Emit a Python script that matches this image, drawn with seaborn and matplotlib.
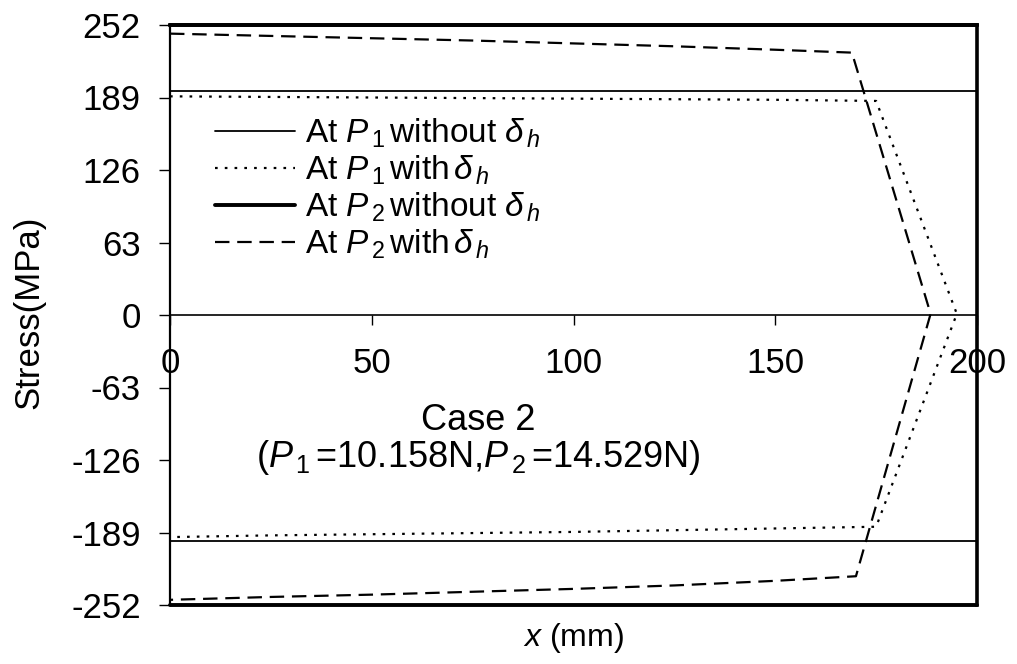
import matplotlib
matplotlib.use("Agg")
import matplotlib.pyplot as plt
import seaborn as sns
import pandas as pd

sns.set_theme(style="ticks")
plt.rcParams['font.family'] = ['Liberation Sans', 'DejaVu Sans']
plt.rcParams['mathtext.fontset'] = 'custom'
plt.rcParams['mathtext.rm'] = 'Liberation Sans'
plt.rcParams['mathtext.it'] = 'Liberation Sans:italic'
plt.rcParams['mathtext.bf'] = 'Liberation Sans:bold'
plt.rcParams['axes.edgecolor'] = 'black'
plt.rcParams['xtick.color'] = 'black'
plt.rcParams['ytick.color'] = 'black'
plt.rcParams['text.color'] = 'black'

# ---- data ----
x_full = [0, 200]
p1_without_top = [195, 195]
p1_without_bot = [-196, -196]
p2_without_top = [252, 252]
p2_without_bot = [-252, -252]

# P1 with delta_h (dotted): upper branch -> tip -> lower branch
p1_with_x = [0, 25, 50, 75, 100, 125, 150, 175, 195, 175, 150, 125, 100, 75, 50, 25, 0]
p1_with_y = [190, 189.5, 189, 188.5, 188, 187.5, 187, 186, 1,
             -184, -185.5, -187, -188.5, -189.5, -190.5, -191.5, -193]

# P2 with delta_h (dashed)
p2_with_x = [0, 25, 50, 75, 100, 125, 150, 169, 188.5, 170, 150, 125, 100, 75, 50, 25, 0]
p2_with_y = [244.5, 242.5, 240.5, 238.5, 236, 233.5, 230.5, 228, 1,
             -227, -231, -235, -238, -240.5, -243, -245, -247.5]

y_ticks = [-252, -189, -126, -63, 0, 63, 126, 189, 252]
x_ticks = [0, 50, 100, 150, 200]

labels = [r"At $P_{\,\mathit{1}}\,$without $\delta_{\,h}$",
          r"At $P_{\,\mathit{1}}\,$with$\,\delta_{\,h}$",
          r"At $P_{\,\mathit{2}}\,$without $\delta_{\,h}$",
          r"At $P_{\,\mathit{2}}\,$with$\,\delta_{\,h}$"]

fig = plt.figure(figsize=(10.17, 6.64), dpi=100)
ax = fig.add_axes([170/1017, 1-605/664, (977-170)/1017, (605-25)/664])

def seg(x, y):
    return pd.DataFrame({"x": x, "y": y})

# P1 without (thin solid)
sns.lineplot(data=seg(x_full, p1_without_top), x="x", y="y", ax=ax, color="black",
             lw=1.3, sort=False, estimator=None, label=labels[0])
sns.lineplot(data=seg(x_full, p1_without_bot), x="x", y="y", ax=ax, color="black",
             lw=1.3, sort=False, estimator=None)
# P1 with (dotted)
sns.lineplot(data=seg(p1_with_x, p1_with_y), x="x", y="y", ax=ax, color="black",
             lw=1.6, sort=False, estimator=None, label=labels[1], dashes=False)
ax.lines[-1].set_dashes((1.2, 3.2))
# P2 without (thick solid)
sns.lineplot(data=seg(x_full, p2_without_top), x="x", y="y", ax=ax, color="black",
             lw=2.8, sort=False, estimator=None, label=labels[2])
ax.lines[-1].set_clip_on(False)
sns.lineplot(data=seg(x_full, p2_without_bot), x="x", y="y", ax=ax, color="black",
             lw=2.8, sort=False, estimator=None)
ax.lines[-1].set_clip_on(False)
# P2 with (dashed)
sns.lineplot(data=seg(p2_with_x, p2_with_y), x="x", y="y", ax=ax, color="black",
             lw=1.6, sort=False, estimator=None, label=labels[3])
ax.lines[-1].set_dashes((6.5, 3.5))

ax.set_xlim(0, 200)
ax.set_ylim(-252, 252)
ax.set_xticks(x_ticks)
ax.set_xticklabels([str(v) for v in x_ticks])
ax.set_yticks(y_ticks)
ax.set_yticklabels([str(v) for v in y_ticks])
ax.set_xlabel("")
ax.set_ylabel("")

ax.spines['bottom'].set_position(('data', 0))
ax.spines['bottom'].set_linewidth(1.2)
ax.spines['left'].set_linewidth(1.6)
ax.spines['right'].set_linewidth(2.6)
ax.spines['top'].set_linewidth(2.6)
for s in ['top', 'right', 'left', 'bottom']:
    ax.spines[s].set_visible(True)

ax.tick_params(axis='y', direction='out', length=8, width=1.0, labelsize=25, pad=13)
ax.tick_params(axis='x', direction='out', length=7, width=1.0, labelsize=25, pad=16)

leg = ax.legend(loc='upper left', bbox_to_anchor=((215-170)/807, (605-117)/580),
                frameon=False, fontsize=24, handlelength=2.4, handletextpad=0.3,
                labelspacing=0.1, borderpad=0, borderaxespad=0)

ax.text(76.5, -92, "Case 2", ha='center', va='center', fontsize=26)
ax.text(76.5, -124, r"($P_{\,\mathit{1}}\,$=10.158N,$P_{\,\mathit{2}}\,$=14.529N)",
        ha='center', va='center', fontsize=26)

fig.text(573/1017, 1-638/664, r"$x$ (mm)", ha='center', va='center', fontsize=23)
fig.text(29/1017, 1-312/664, "Stress(MPa)", ha='center', va='center',
         rotation=90, fontsize=25)

fig.savefig("out.png", dpi=100)
